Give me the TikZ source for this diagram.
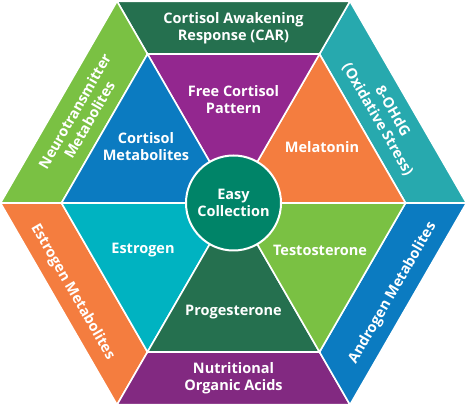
\documentclass[tikz,border=0pt]{standalone}
\usepackage{fontspec}
\setmainfont{Open Sans}
\usetikzlibrary{calc}
\definecolor{cDkGreen}{HTML}{25704F}
\definecolor{cPurpleA}{HTML}{93278F}
\definecolor{cPurpleB}{HTML}{822981}
\definecolor{cLtGreen}{HTML}{7AC143}
\definecolor{cBlue}{HTML}{0B7BC1}
\definecolor{cTealA}{HTML}{27A9AE}
\definecolor{cTealB}{HTML}{00B3C1}
\definecolor{cOrange}{HTML}{F47D3F}
\definecolor{cCenter}{HTML}{008468}
\begin{document}
\begin{tikzpicture}[x=1pt,y=1pt,
  piece/.style={draw=white, line width=1.6pt, line join=miter},
  lbl/.style={text=white, font=\bfseries\fontsize{14.5}{17}\selectfont, align=center, inner sep=0pt}]
\useasboundingbox (0,0) rectangle (467,407);
\coordinate (C) at (233.5,204);
\foreach \k in {0,...,6} {
  \coordinate (O\k) at ($(C)+(60*\k:233)$);
  \coordinate (I\k) at ($(C)+(60*\k:172)$);
}
% outer ring
\fill[piece, fill=cTealA]   (O0) -- (O1) -- (I1) -- (I0) -- cycle;
\fill[piece, fill=cDkGreen] (O1) -- (O2) -- (I2) -- (I1) -- cycle;
\fill[piece, fill=cLtGreen] (O2) -- (O3) -- (I3) -- (I2) -- cycle;
\fill[piece, fill=cOrange]  (O3) -- (O4) -- (I4) -- (I3) -- cycle;
\fill[piece, fill=cPurpleB] (O4) -- (O5) -- (I5) -- (I4) -- cycle;
\fill[piece, fill=cBlue]    (O5) -- (O6) -- (I6) -- (I5) -- cycle;
% inner triangles
\fill[piece, fill=cOrange]  (C) -- (I0) -- (I1) -- cycle;
\fill[piece, fill=cPurpleA] (C) -- (I1) -- (I2) -- cycle;
\fill[piece, fill=cBlue]    (C) -- (I2) -- (I3) -- cycle;
\fill[piece, fill=cTealB]   (C) -- (I3) -- (I4) -- cycle;
\fill[piece, fill=cDkGreen] (C) -- (I4) -- (I5) -- cycle;
\fill[piece, fill=cLtGreen] (C) -- (I5) -- (I6) -- cycle;
% ring labels
\node[lbl, rotate=-60] (ohdg) at ($(C)+(30:175)$) {8-OHdG\\(Oxidative Stress)};
\node[lbl] (car) at ($(C)+(90:175)$) {Cortisol Awakening\\Response (CAR)};
\node[lbl, rotate=60] (neuro) at ($(C)+(150:175)$) {Neurotransmitter\\Metabolites};
\node[lbl, rotate=-60] (estm) at ($(C)+(209:184)$) {Estrogen Metabolites};
\node[lbl] (nutr) at ($(C)+(270:175)$) {Nutritional\\Organic Acids};
\node[lbl, rotate=60] (andr) at ($(C)+(330.5:183)$) {Androgen Metabolites};
% triangle labels
\node[lbl] (mel) at (322,260) {Melatonin};
\node[lbl] (free) at (233.5,307) {Free Cortisol\\Pattern};
\node[lbl] (cmet) at (146,260) {Cortisol\\Metabolites};
\node[lbl] (estr) at (143,157) {Estrogen};
\node[lbl] (prog) at (233.5,95) {Progesterone};
\node[lbl] (test) at (320,157) {Testosterone};
% center
\node[circle, fill=cCenter, draw=white, line width=2pt, minimum size=95pt, inner sep=0pt] (ctr) at (C) {};
\node[lbl] (easy) at (C) {Easy\\Collection};
\end{tikzpicture}
\end{document}
